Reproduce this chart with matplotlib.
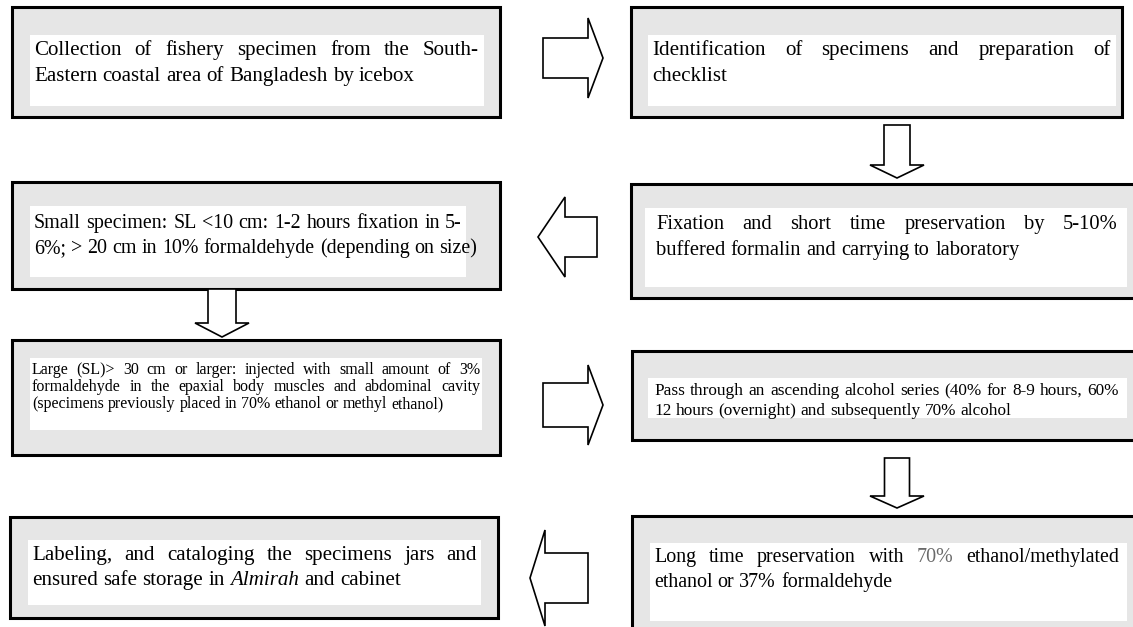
import matplotlib
matplotlib.use("Agg")
import matplotlib.pyplot as plt
from matplotlib.patches import Rectangle, Polygon
from matplotlib.font_manager import FontProperties

plt.rcParams['font.family'] = ['Liberation Serif', 'DejaVu Serif']

# Text of every step, one string per printed line.
# *word* -> italic, ~word~ -> grey
step1 = ["Collection of fishery specimen from the South-",
         "Eastern coastal area of Bangladesh by icebox"]
step2 = ["Identification of specimens and preparation of",
         "checklist"]
step3 = ["Small specimen: SL <10 cm: 1-2 hours fixation in 5-",
         "6%; > 20 cm in 10% formaldehyde (depending on size)"]
step4 = ["Fixation and short time preservation by 5-10%",
         "buffered formalin and carrying to laboratory"]
step5 = ["Large (SL)> 30 cm or larger: injected with small amount of 3%",
         "formaldehyde in the epaxial body muscles and abdominal cavity",
         "(specimens previously placed in 70% ethanol or methyl ethanol)"]
step6 = ["Pass through an ascending alcohol series (40% for 8-9 hours, 60%",
         "12 hours (overnight) and subsequently 70% alcohol"]
step7 = ["Labeling, and cataloging the specimens jars and",
         "ensured safe storage in *Almirah* and cabinet"]
step8 = ["Long time preservation with ~70%~ ethanol/methylated",
         "ethanol or 37% formaldehyde"]

W, H = 1133, 627
fig = plt.figure(figsize=(W / 100, H / 100), dpi=100)
ax = fig.add_axes([0, 0, 1, 1])
ax.set_xlim(0, W)
ax.set_ylim(H, 0)
ax.axis('off')
renderer = fig.canvas.get_renderer()


def px_width(s, prop):
    w, h, d = renderer.get_text_width_height_descent(s, prop, ismath=False)
    return w


def parse_word(word, size_pt):
    style, color = 'normal', 'black'
    if word.startswith('*') and word.endswith('*'):
        word, style = word[1:-1], 'italic'
    if word.startswith('~') and word.endswith('~'):
        word, color = word[1:-1], '#6a6a6a'
    prop = FontProperties(family='Liberation Serif', style=style, size=size_pt)
    return word, prop, color


def draw_lines(lines, x0, x1, base_y, spacing, size_px):
    size_pt = size_px * 0.72
    plain = FontProperties(family='Liberation Serif', size=size_pt)
    space = px_width('x x', plain) - px_width('xx', plain)
    for i, line in enumerate(lines):
        words = [parse_word(w, size_pt) for w in line.split()]
        widths = [px_width(w, p) for w, p, c in words]
        gap = space
        # every line but the last one is justified
        if i < len(lines) - 1 and len(words) > 1:
            gap = (x1 - x0 - sum(widths)) / (len(words) - 1)
        x = x0
        y = base_y + i * spacing
        for (w, p, c), wd in zip(words, widths):
            ax.text(x, y, w, fontproperties=p, color=c, ha='left', va='baseline')
            x += wd + gap


def step_box(outer, inner):
    x0, y0, x1, y1 = outer
    ax.add_patch(Rectangle((x0, y0), x1 - x0, y1 - y0, facecolor='#e6e6e6',
                           edgecolor='black', linewidth=2.2, zorder=1))
    a0, b0, a1, b1 = inner
    ax.add_patch(Rectangle((a0, b0), a1 - a0, b1 - b0, facecolor='white',
                           edgecolor='none', zorder=2))


def block_arrow(tail, tip, centre, shaft_w, head_w, head_len, vertical=False):
    d = 1 if tip > tail else -1
    base = tip - d * head_len
    s, h = shaft_w / 2, head_w / 2
    pts = [(tail, centre - s), (base, centre - s), (base, centre - h), (tip, centre),
           (base, centre + h), (base, centre + s), (tail, centre + s)]
    if vertical:
        pts = [(b, a) for a, b in pts]
    ax.add_patch(Polygon(pts, closed=True, facecolor='white', edgecolor='black',
                         linewidth=1.2, joinstyle='miter', zorder=3))


# boxes: outer frame, white text area
step_box((12, 7, 500, 117), (30, 35, 484, 106))
step_box((631, 7, 1122, 117), (648, 35, 1116, 106))
step_box((12, 182, 500, 289), (30, 206, 466, 277))
step_box((631, 184, 1145, 298), (645, 208, 1127, 287))
step_box((12, 340, 500, 455), (30, 358, 482, 430))
step_box((632, 351, 1145, 440), (648, 378, 1127, 418))
step_box((10, 517, 498, 618), (28, 540, 481, 605))
step_box((632, 516, 1145, 650), (650, 543, 1127, 621))

draw_lines(step1, 34, 479, 55, 26, 21)
draw_lines(step2, 652, 1111, 55, 26, 21)
draw_lines(step3, 34, 462, 228, 25, 20)
draw_lines(step4, 656, 1118, 229, 26, 20.5)
draw_lines(step5, 32, 480, 374, 17, 16)
draw_lines(step6, 654, 1119, 395, 20, 17.3)
draw_lines(step7, 32, 477, 560, 25, 21)
draw_lines(step8, 654, 1119, 562, 25, 20)

# arrows between the steps
block_arrow(543, 603, 58, 40, 80, 15)
block_arrow(125, 178, 897, 26, 54, 13, vertical=True)
block_arrow(597, 538, 237, 40, 80, 27)
block_arrow(289, 337, 222, 28, 54, 14, vertical=True)
block_arrow(543, 603, 405, 44, 80, 15)
block_arrow(458, 508, 897, 25, 54, 12, vertical=True)
block_arrow(588, 530, 578, 50, 96, 15)

fig.savefig('out.png', dpi=100)
